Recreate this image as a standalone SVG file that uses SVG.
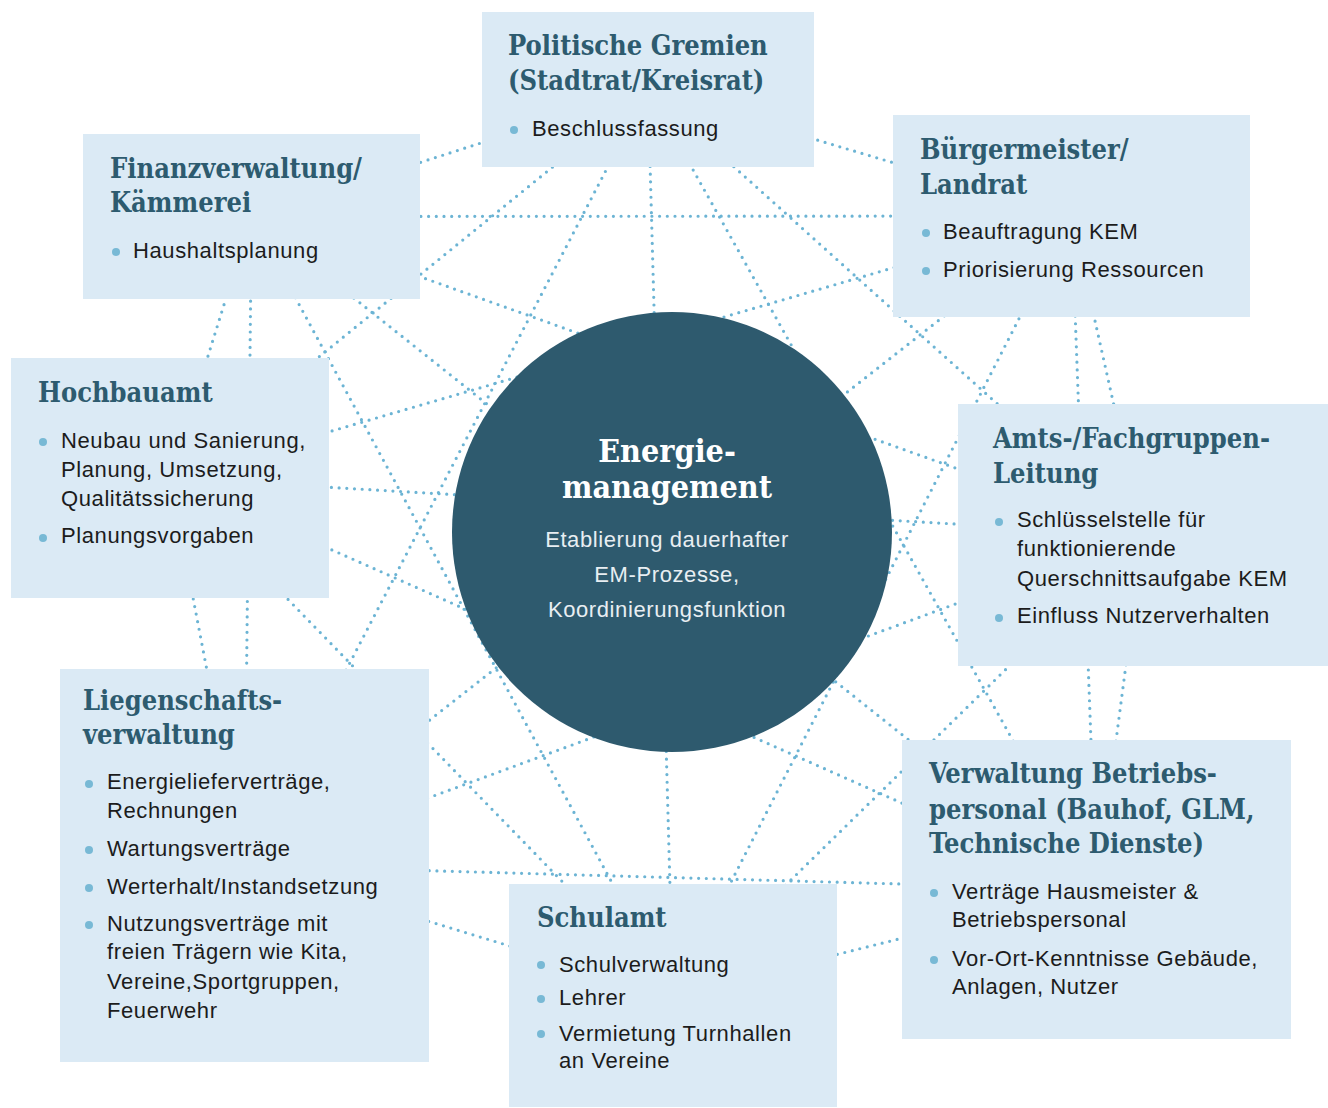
<svg xmlns="http://www.w3.org/2000/svg" width="1328" height="1108" viewBox="0 0 1328 1108">
<style>
.box{fill:#dbeaf5}
.t{font-family:"DejaVu Serif Condensed","DejaVu Serif",serif;font-stretch:condensed;font-weight:700;font-size:27px;fill:#2d5b6f}
.b{font-family:"Liberation Sans",Arial,sans-serif;font-size:22px;letter-spacing:0.6px;fill:#1c1c1c}
.dot{fill:#78b9d5}
.ln{stroke:#6cb4d4;stroke-width:3.2;stroke-dasharray:0 7.7;stroke-linecap:round;fill:none}
.ct{font-family:"DejaVu Serif Condensed","DejaVu Serif",serif;font-stretch:condensed;font-weight:700;font-size:32px;fill:#ffffff;text-anchor:middle}
.cb{font-family:"Liberation Sans",Arial,sans-serif;font-size:22px;letter-spacing:0.6px;fill:#e8eef2;text-anchor:middle}
</style>
<rect width="1328" height="1108" fill="#ffffff"/>
<g id="connectors">
<line class="ln" x1="648" y1="89.5" x2="251.5" y2="216.5"/>
<line class="ln" x1="648" y1="89.5" x2="1071.5" y2="216"/>
<line class="ln" x1="648" y1="89.5" x2="170" y2="478"/>
<line class="ln" x1="648" y1="89.5" x2="1143" y2="535"/>
<line class="ln" x1="648" y1="89.5" x2="244.5" y2="865.5"/>
<line class="ln" x1="648" y1="89.5" x2="673" y2="995.5"/>
<line class="ln" x1="648" y1="89.5" x2="1096.5" y2="889.5"/>
<line class="ln" x1="251.5" y1="216.5" x2="1071.5" y2="216"/>
<line class="ln" x1="251.5" y1="216.5" x2="170" y2="478"/>
<line class="ln" x1="251.5" y1="216.5" x2="1143" y2="535"/>
<line class="ln" x1="251.5" y1="216.5" x2="244.5" y2="865.5"/>
<line class="ln" x1="251.5" y1="216.5" x2="673" y2="995.5"/>
<line class="ln" x1="251.5" y1="216.5" x2="1096.5" y2="889.5"/>
<line class="ln" x1="1071.5" y1="216" x2="170" y2="478"/>
<line class="ln" x1="1071.5" y1="216" x2="1143" y2="535"/>
<line class="ln" x1="1071.5" y1="216" x2="244.5" y2="865.5"/>
<line class="ln" x1="1071.5" y1="216" x2="673" y2="995.5"/>
<line class="ln" x1="1071.5" y1="216" x2="1096.5" y2="889.5"/>
<line class="ln" x1="170" y1="478" x2="1143" y2="535"/>
<line class="ln" x1="170" y1="478" x2="244.5" y2="865.5"/>
<line class="ln" x1="170" y1="478" x2="673" y2="995.5"/>
<line class="ln" x1="170" y1="478" x2="1096.5" y2="889.5"/>
<line class="ln" x1="1143" y1="535" x2="244.5" y2="865.5"/>
<line class="ln" x1="1143" y1="535" x2="673" y2="995.5"/>
<line class="ln" x1="1143" y1="535" x2="1096.5" y2="889.5"/>
<line class="ln" x1="244.5" y1="865.5" x2="673" y2="995.5"/>
<line class="ln" x1="244.5" y1="865.5" x2="1096.5" y2="889.5"/>
<line class="ln" x1="673" y1="995.5" x2="1096.5" y2="889.5"/>
</g>
<g id="politische-gremien">
<rect class="box" x="482" y="12" width="332" height="155"/>
<text class="t" x="508" y="55">Politische Gremien</text>
<text class="t" x="508" y="90">(Stadtrat/Kreisrat)</text>
<circle class="dot" cx="514" cy="130" r="4"/>
<text class="b" x="532" y="136">Beschlussfassung</text>
</g>
<g id="finanzverwaltung">
<rect class="box" x="83" y="134" width="337" height="165"/>
<text class="t" x="110" y="178">Finanzverwaltung/</text>
<text class="t" x="110" y="212">Kämmerei</text>
<circle class="dot" cx="116" cy="252" r="4"/>
<text class="b" x="133" y="258">Haushaltsplanung</text>
</g>
<g id="buergermeister">
<rect class="box" x="893" y="115" width="357" height="202"/>
<text class="t" x="920" y="159">Bürgermeister/</text>
<text class="t" x="920" y="194">Landrat</text>
<circle class="dot" cx="926" cy="233" r="4"/>
<text class="b" x="943" y="239">Beauftragung KEM</text>
<circle class="dot" cx="926" cy="271" r="4"/>
<text class="b" x="943" y="277">Priorisierung Ressourcen</text>
</g>
<g id="hochbauamt">
<rect class="box" x="11" y="358" width="318" height="240"/>
<text class="t" x="38" y="402">Hochbauamt</text>
<circle class="dot" cx="43" cy="442" r="4"/>
<text class="b" x="61" y="448">Neubau und Sanierung,</text>
<text class="b" x="61" y="477">Planung, Umsetzung,</text>
<text class="b" x="61" y="506">Qualitätssicherung</text>
<circle class="dot" cx="43" cy="538" r="4"/>
<text class="b" x="61" y="543">Planungsvorgaben</text>
</g>
<g id="amts-fachgruppenleitung">
<rect class="box" x="958" y="404" width="370" height="262"/>
<text class="t" x="993" y="448">Amts-/Fachgruppen-</text>
<text class="t" x="993" y="483">Leitung</text>
<circle class="dot" cx="999" cy="522" r="4"/>
<text class="b" x="1017" y="527">Schlüsselstelle für</text>
<text class="b" x="1017" y="556">funktionierende</text>
<text class="b" x="1017" y="586">Querschnittsaufgabe KEM</text>
<circle class="dot" cx="999" cy="618" r="4"/>
<text class="b" x="1017" y="623">Einfluss Nutzerverhalten</text>
</g>
<g id="liegenschaftsverwaltung">
<rect class="box" x="60" y="669" width="369" height="393"/>
<text class="t" x="83" y="710">Liegenschafts-</text>
<text class="t" x="83" y="744">verwaltung</text>
<circle class="dot" cx="89" cy="784" r="4"/>
<text class="b" x="107" y="789">Energielieferverträge,</text>
<text class="b" x="107" y="818">Rechnungen</text>
<circle class="dot" cx="89" cy="850" r="4"/>
<text class="b" x="107" y="856">Wartungsverträge</text>
<circle class="dot" cx="89" cy="888" r="4"/>
<text class="b" x="107" y="894">Werterhalt/Instandsetzung</text>
<circle class="dot" cx="89" cy="925" r="4"/>
<text class="b" x="107" y="931">Nutzungsverträge mit</text>
<text class="b" x="107" y="959">freien Trägern wie Kita,</text>
<text class="b" x="107" y="989">Vereine,Sportgruppen,</text>
<text class="b" x="107" y="1018">Feuerwehr</text>
</g>
<g id="schulamt">
<rect class="box" x="509" y="884" width="328" height="223"/>
<text class="t" x="537" y="927">Schulamt</text>
<circle class="dot" cx="541" cy="965" r="4"/>
<text class="b" x="559" y="972">Schulverwaltung</text>
<circle class="dot" cx="541" cy="999" r="4"/>
<text class="b" x="559" y="1005">Lehrer</text>
<circle class="dot" cx="541" cy="1034" r="4"/>
<text class="b" x="559" y="1041">Vermietung Turnhallen</text>
<text class="b" x="559" y="1068">an Vereine</text>
</g>
<g id="verwaltung-betriebspersonal">
<rect class="box" x="902" y="740" width="389" height="299"/>
<text class="t" x="929" y="783">Verwaltung Betriebs-</text>
<text class="t" x="929" y="819">personal (Bauhof, GLM,</text>
<text class="t" x="929" y="853">Technische Dienste)</text>
<circle class="dot" cx="934" cy="893" r="4"/>
<text class="b" x="952" y="899">Verträge Hausmeister &amp;</text>
<text class="b" x="952" y="927">Betriebspersonal</text>
<circle class="dot" cx="934" cy="960" r="4"/>
<text class="b" x="952" y="966">Vor-Ort-Kenntnisse Gebäude,</text>
<text class="b" x="952" y="994">Anlagen, Nutzer</text>
</g>
<g id="energiemanagement">
<circle cx="672" cy="532" r="220" fill="#2e5a6e"/>
<text class="ct" x="667" y="462">Energie-</text>
<text class="ct" x="667" y="498">management</text>
<text class="cb" x="667" y="547">Etablierung dauerhafter</text>
<text class="cb" x="667" y="582">EM-Prozesse,</text>
<text class="cb" x="667" y="617">Koordinierungsfunktion</text>
</g>
</svg>
